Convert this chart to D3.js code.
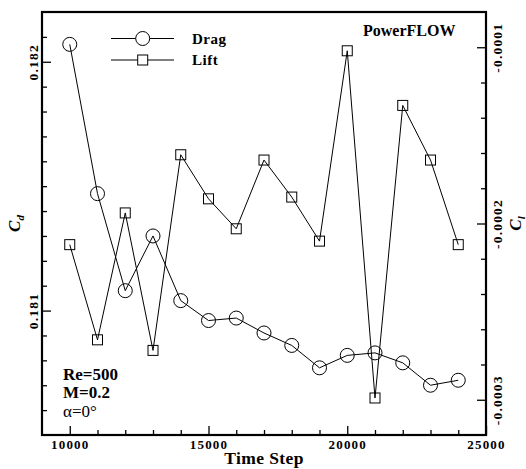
<!DOCTYPE html>
<html><head><meta charset="utf-8">
<script src="https://cdn.jsdelivr.net/npm/d3@7"></script>
<style>body{margin:0;background:#fff}svg{display:block}text{font-family:"Liberation Serif","Times New Roman",serif;}</style>
</head><body>
<script>
const timeSteps = [10000,11000,12000,13000,14000,15000,16000,17000,18000,19000,20000,21000,22000,23000,24000];
const dragValues = [0.18207,0.18147,0.18108,0.18130,0.18104,0.18096,0.18097,0.18091,0.18086,0.18077,0.18082,0.18083,0.18079,0.18070,0.18072];
const liftValues = [-0.000212,-0.000266,-0.000194,-0.000272,-0.000161,-0.000186,-0.000203,-0.000164,-0.000185,-0.000210,-0.000102,-0.000299,-0.000133,-0.000164,-0.000212];
const xMajorTicks = [10000,15000,20000,25000];
const xMinorTicks = d3.range(10000,25001,1000).filter(v=>v%5000!==0);
const cdMajorTicks = [0.181,0.182];
const cdMinorTicks = d3.range(1806,1822).map(v=>v/10000).filter(v=>Math.abs(v-0.181)>1e-7&&Math.abs(v-0.182)>1e-7);
const clMajorTicks = [-0.0001,-0.0002,-0.0003];
const clMinorTicks = [-0.00012,-0.00014,-0.00016,-0.00018,-0.00022,-0.00024,-0.00026,-0.00028];
const legendLabels = ["Drag","Lift"];
const noteLines = ["Re=500","M=0.2","\u03b1=0\u00b0"];

const W=526,H=469, L=42,R=486,T=12,B=435;
const FONT="Liberation Serif";
const svg=d3.select("body").append("svg").attr("width",W).attr("height",H);
const x=d3.scaleLinear().domain([9000,25000]).range([L,R]);
const yD=d3.scaleLinear().domain([0.1805,0.1822]).range([B,T]);
const yL=d3.scaleLinear().domain([-0.00032,-0.00008]).range([B,T]);

function styleAxis(g){g.select(".domain").remove();g.attr("font-family",FONT);g.selectAll("line").attr("stroke","#000").attr("stroke-width",1.3);}
// x axis
svg.append("g").attr("transform",`translate(0,${B})`)
 .call(d3.axisBottom(x).tickValues(xMinorTicks).tickSizeInner(-5).tickSizeOuter(0).tickFormat(""))
 .call(styleAxis);
svg.append("g").attr("transform",`translate(0,${B})`)
 .call(d3.axisBottom(x).tickValues(xMajorTicks).tickSizeInner(-9).tickSizeOuter(0).tickFormat(d3.format("d")))
 .call(styleAxis)
 .call(g=>g.selectAll("text").attr("y",14).attr("dy",null).attr("fill","#000")
   .attr("font-size",13).attr("font-weight","bold").attr("letter-spacing",1.2).attr("font-family",FONT));
// left axis
svg.append("g").attr("transform",`translate(${L},0)`)
 .call(d3.axisLeft(yD).tickValues(cdMinorTicks).tickSizeInner(-5).tickSizeOuter(0).tickFormat(""))
 .call(styleAxis);
svg.append("g").attr("transform",`translate(${L},0)`)
 .call(d3.axisLeft(yD).tickValues(cdMajorTicks).tickSizeInner(-9).tickSizeOuter(0).tickFormat(d=>d.toFixed(3)))
 .call(styleAxis)
 .call(g=>g.selectAll("text").attr("x",null).attr("dy",null).attr("text-anchor","middle")
   .attr("transform","translate(-4,0) rotate(-90)").attr("fill","#000")
   .attr("font-size",13.5).attr("font-weight","bold").attr("letter-spacing",1.2).attr("font-family",FONT));
// right axis
svg.append("g").attr("transform",`translate(${R},0)`)
 .call(d3.axisRight(yL).tickValues(clMinorTicks).tickSizeInner(-5).tickSizeOuter(0).tickFormat(""))
 .call(styleAxis);
svg.append("g").attr("transform",`translate(${R},0)`)
 .call(d3.axisRight(yL).tickValues(clMajorTicks).tickSizeInner(-9).tickSizeOuter(0).tickFormat(d=>d.toFixed(4)))
 .call(styleAxis)
 .call(g=>g.selectAll("text").attr("x",null).attr("dy",null).attr("text-anchor","middle")
   .attr("transform","translate(16,0) rotate(-90)").attr("fill","#000")
   .attr("font-size",13.5).attr("font-weight","bold").attr("letter-spacing",1.2).attr("font-family",FONT));

// frame
svg.append("rect").attr("x",L).attr("y",T).attr("width",R-L).attr("height",B-T)
 .attr("fill","none").attr("stroke","#000").attr("stroke-width",2.2);

// axis titles
svg.append("text").attr("x",(L+R)/2).attr("y",464).attr("text-anchor","middle").attr("font-family",FONT)
 .attr("font-size",17.5).attr("font-weight","bold").attr("letter-spacing",0.4).text("Time Step");
const cd=svg.append("text").attr("transform",`translate(20,${(T+B)/2}) rotate(-90)`).attr("text-anchor","middle")
 .attr("font-family",FONT).attr("font-weight","bold").attr("font-size",17);
cd.append("tspan").attr("font-style","italic").text("C");
cd.append("tspan").attr("font-style","italic").attr("font-size",11).attr("dy",4).text("d");
const cl=svg.append("text").attr("transform",`translate(521,${(T+B)/2}) rotate(-90)`).attr("text-anchor","middle")
 .attr("font-family",FONT).attr("font-weight","bold").attr("font-size",17);
cl.append("tspan").attr("font-style","italic").text("C");
cl.append("tspan").attr("font-style","italic").attr("font-size",11).attr("dy",4).text("l");

// lift series
const line=(ys,vals)=>d3.line().x((d,i)=>x(timeSteps[i])).y((d,i)=>ys(vals[i]))(vals);
svg.append("path").attr("d",line(yL,liftValues)).attr("fill","none").attr("stroke","#000").attr("stroke-width",1);
svg.append("g").selectAll("rect").data(liftValues).join("rect")
 .attr("x",(d,i)=>x(timeSteps[i])-5).attr("y",d=>yL(d)-5).attr("width",10).attr("height",10)
 .attr("fill","none").attr("stroke","#000").attr("stroke-width",1);
// drag series
svg.append("path").attr("d",line(yD,dragValues)).attr("fill","none").attr("stroke","#000").attr("stroke-width",1);
svg.append("g").selectAll("circle").data(dragValues).join("circle")
 .attr("cx",(d,i)=>x(timeSteps[i])).attr("cy",d=>yD(d)).attr("r",7)
 .attr("fill","none").attr("stroke","#000").attr("stroke-width",1);

// legend
const legY=[38.5,60];
legendLabels.forEach((lab,i)=>{
  const g=svg.append("g");
  g.append("line").attr("x1",111).attr("x2",174).attr("y1",legY[i]).attr("y2",legY[i]).attr("stroke","#000").attr("stroke-width",1);
  if(i===0) g.append("circle").attr("cx",142.7).attr("cy",legY[i]).attr("r",7).attr("fill","#fff").attr("stroke","#000");
  else g.append("rect").attr("x",137.7).attr("y",legY[i]-5).attr("width",10).attr("height",10).attr("fill","#fff").attr("stroke","#000");
  g.append("text").attr("x",192).attr("y",legY[i]+5.2).attr("font-family",FONT).attr("font-size",15).attr("font-weight","bold").attr("letter-spacing",0.5).text(lab);
});
svg.append("text").attr("x",363).attr("y",36).attr("font-family",FONT).attr("font-size",16).attr("font-weight","bold").text("PowerFLOW");

// notes
const noteY=[380,398,416.7];
noteLines.forEach((t,i)=>{
  svg.append("text").attr("x",63).attr("y",noteY[i]).attr("font-family",FONT).attr("font-size",17)
   .attr("font-weight",i<2?"bold":"normal").text(t);
});
</script>
</body></html>
